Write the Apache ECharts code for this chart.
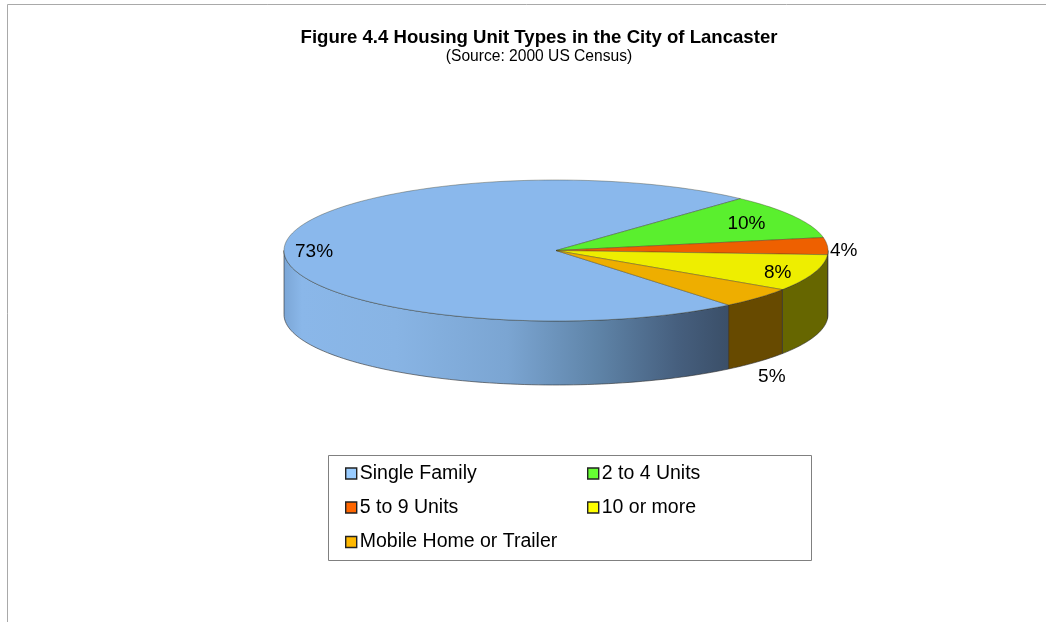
<!DOCTYPE html>
<html>
<head>
<meta charset="utf-8">
<style>html,body{margin:0;padding:0;background:#fff}#c{width:1046px;height:622px}</style>
<script src="https://cdn.jsdelivr.net/npm/echarts@6/dist/echarts.min.js"></script>
</head>
<body>
<div id="c"></div>
<script>
const categories = ['Single Family', '2 to 4 Units', '5 to 9 Units', '10 or more', 'Mobile Home or Trailer'];
const shares = [72.8, 10.2, 3.9, 8.4, 4.7];
const topColors = ['#8ab8ec', '#5aef2e', '#ee6000', '#eeee00', '#eeae00'];
const sideColors = ['#6f96c0', '#366f1a', '#7a3000', '#666600', '#674a00'];
const legendColors = ['#99ccff', '#66ff33', '#ff6600', '#ffff00', '#ffb800'];
const labelRadius = [0.89, 0.80, 1.06, 0.86, 1.07];
const labelDrop = [3, 1, 5, 3, 76];
const legendPos = [[345, 463.5], [587, 463.5], [345, 497.5], [587, 497.5], [345, 532]];

const FONT = '"Liberation Sans", Arial, sans-serif';
const CX = 556, CY = 250.5, RX = 272, RY = 70.5, DEPTH = 64, START = -50.6;
const total = shares.reduce((a, b) => a + b, 0);
const pt = (deg, dy) => [CX + RX * Math.cos(deg * Math.PI / 180), CY - RY * Math.sin(deg * Math.PI / 180) + dy];
function arc(from, to, dy) {
  const n = Math.max(2, Math.ceil(Math.abs(to - from) / 1.5)), out = [];
  for (let k = 0; k <= n; k++) out.push(pt(from + (to - from) * k / n, dy));
  return out;
}
const blueSide = {
  type: 'linear', x: 284, y: 0, x2: 731, y2: 0, global: true,
  colorStops: [
    { offset: 0, color: '#7ba6d6' }, { offset: 0.04, color: '#8ab7e9' },
    { offset: 0.25, color: '#88b4e4' }, { offset: 0.5, color: '#7ba5d2' },
    { offset: 0.7, color: '#5f84a8' }, { offset: 0.88, color: '#465f7e' },
    { offset: 1, color: '#3a4e67' }
  ]
};
const OUTLINE = 'rgba(45,45,45,0.75)';
function renderSlice(i, api) {
  let before = 0;
  for (let k = 0; k < i; k++) before += shares[k];
  let a0 = START - before / total * 360;
  if (i > 0) a0 += 360;
  const a1 = a0 - api.value(0) / total * 360;
  const kids = [];
  const hi = Math.min(a0, 0), lo = Math.max(a1, -180);
  if (lo < hi) {
    kids.push({
      type: 'polygon',
      shape: { points: arc(hi, lo, 0).concat(arc(lo, hi, DEPTH)) },
      style: { fill: i === 0 ? blueSide : sideColors[i], stroke: OUTLINE, lineWidth: 0.8 }
    });
  }
  kids.push({
    type: 'polygon',
    shape: { points: [[CX, CY]].concat(arc(a0, a1, 0)) },
    style: { fill: topColors[i], stroke: 'rgba(60,60,40,0.55)', lineWidth: 0.7 }
  });
  const mid = (a0 + a1) / 2, r = labelRadius[i];
  kids.push({
    type: 'text',
    z2: 10,
    style: {
      text: Math.round(api.value(0)) + '%',
      x: CX + RX * r * Math.cos(mid * Math.PI / 180),
      y: CY - RY * r * Math.sin(mid * Math.PI / 180) + labelDrop[i],
      align: 'center', verticalAlign: 'middle',
      font: '19px ' + FONT, fill: '#000'
    }
  });
  return { type: 'group', children: kids };
}
const series = categories.map((name, i) => ({
  type: 'custom',
  name,
  coordinateSystem: 'none',
  silent: true,
  color: legendColors[i],
  itemStyle: { color: legendColors[i] },
  data: [[shares[i]]],
  renderItem: (p, api) => renderSlice(i, api)
}));
const legends = categories.map((name, i) => ({
  left: legendPos[i][0], top: legendPos[i][1],
  data: [name], icon: 'rect', itemWidth: 11, itemHeight: 11, padding: 0,
  selectedMode: false,
  itemStyle: { borderColor: '#222', borderWidth: 1.4 },
  textStyle: { fontFamily: FONT, fontSize: 19.5, color: '#000', padding: [3, 0, 0, -2] }
}));
const chart = echarts.init(document.getElementById('c'), null, { renderer: 'canvas' });
chart.setOption({
  animation: false,
  backgroundColor: '#fff',
  title: {
    text: 'Figure 4.4 Housing Unit Types in the City of Lancaster',
    subtext: '(Source: 2000 US Census)',
    left: 539, top: 28, textAlign: 'center', itemGap: 2, padding: 0,
    textStyle: { fontFamily: FONT, fontSize: 18.6, fontWeight: 'bold', color: '#000' },
    subtextStyle: { fontFamily: FONT, fontSize: 15.6, color: '#000' }
  },
  legend: legends,
  series,
  graphic: [
    { type: 'polyline', silent: true, shape: { points: [[7.5, 622], [7.5, 4.5], [1046, 4.5]] }, style: { fill: 'none', stroke: '#a9a9a9', lineWidth: 1 } },
    { type: 'rect', silent: true, z: -1, shape: { x: 328.5, y: 455.5, width: 483, height: 105 }, style: { fill: '#fff', stroke: '#808080', lineWidth: 1 } }
  ]
});
</script>
</body>
</html>
